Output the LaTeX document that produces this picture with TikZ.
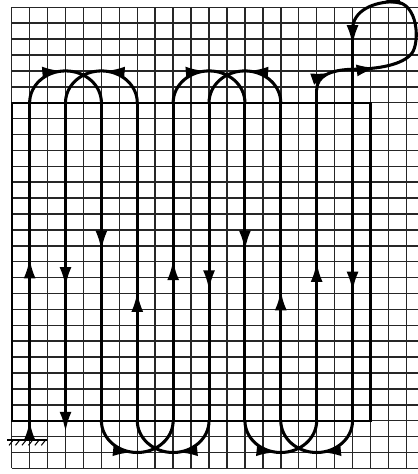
\documentclass[tikz,border=0pt]{standalone}
\usetikzlibrary{arrows.meta,decorations.markings}

\begin{document}
\begin{tikzpicture}[
  x=0.5382cm, y=-0.477cm,
  gridline/.style={black!85, line width=1.3pt},
  field/.style={black, line width=1.8pt},
  track/.style={black, line width=2.6pt, line cap=round},
  arr/.style={track, -{Latex[length=6mm,width=3.6mm]}},
  heading/.style={postaction={decorate, decoration={markings,
      mark=at position #1 with {\arrow{Latex[length=6mm,width=3.6mm]}}}}},
  ground/.style={black, line width=1.3pt}
]
\useasboundingbox (-0.652,-0.459) rectangle (22.648,29.352);

% ---- grid ----
\foreach \c in {0,...,22}
  \draw[gridline] (\c,0) -- (\c,29);
\foreach \r in {0,...,29}
  \draw[gridline] (0,\r) -- (23,\r);

% ---- field border ----
\draw[field] (0,6) rectangle (20,26);

% ---- ground at the start ----
\draw[ground] (-0.25,27.2) -- (1.95,27.2);
\foreach \i in {0,...,5}
  \draw[ground, line width=0.9pt] (0.1+0.36*\i,27.2) -- ++(-0.25,0.35);

% ---- passes, first run ----
\draw[track, heading=0.057, heading=0.538] (1,27.2) -- (1,6);
\draw[track, heading=0.47] (1,6) arc[start angle=180, end angle=360, radius=2];
\draw[track, heading=0.465] (5,6) -- (5,26);
\draw[track, heading=0.46] (5,26) arc[start angle=180, end angle=0, radius=2];
\draw[track, heading=0.505] (9,26) -- (9,6);
\draw[track, heading=0.47] (9,6) arc[start angle=180, end angle=360, radius=2];
\draw[track, heading=0.465] (13,6) -- (13,26);
\draw[track, heading=0.46] (13,26) arc[start angle=180, end angle=0, radius=2];
\draw[track, heading=0.48] (17,26) -- (17,5.2);

% ---- loop at the top right ----
\draw[track, heading=0.55] (17,5.2) .. controls (17,4.3) and (17.8,3.95) .. (18.9,3.9);
\draw[track, heading=0.4] (18.9,3.9) .. controls (20.5,3.9) and (21.8,3.6) .. (22.3,2.9);
\draw[track] (22.3,2.9) .. controls (22.75,2.27) and (22.7,-0.35) .. (21.3,-0.35);
\draw[track, heading=0.25] (21.3,-0.35) .. controls (20.2,-0.35) and (19,0.2) .. (19,1.4);

% ---- passes, way back ----
\draw[track, heading=0.04, heading=0.67] (19,1.4) -- (19,26);
\draw[track, heading=0.46] (19,26) arc[start angle=0, end angle=180, radius=2];
\draw[track, heading=0.41] (15,26) -- (15,6);
\draw[track, heading=0.47] (15,6) arc[start angle=0, end angle=-180, radius=2];
\draw[track, heading=0.59] (11,6) -- (11,26);
\draw[track, heading=0.46] (11,26) arc[start angle=0, end angle=180, radius=2];
\draw[track, heading=0.405] (7,26) -- (7,6);
\draw[track, heading=0.47] (7,6) arc[start angle=0, end angle=-180, radius=2];
\draw[arr, heading=0.56] (3,6) -- (3,26.7);

\end{tikzpicture}
\end{document}
